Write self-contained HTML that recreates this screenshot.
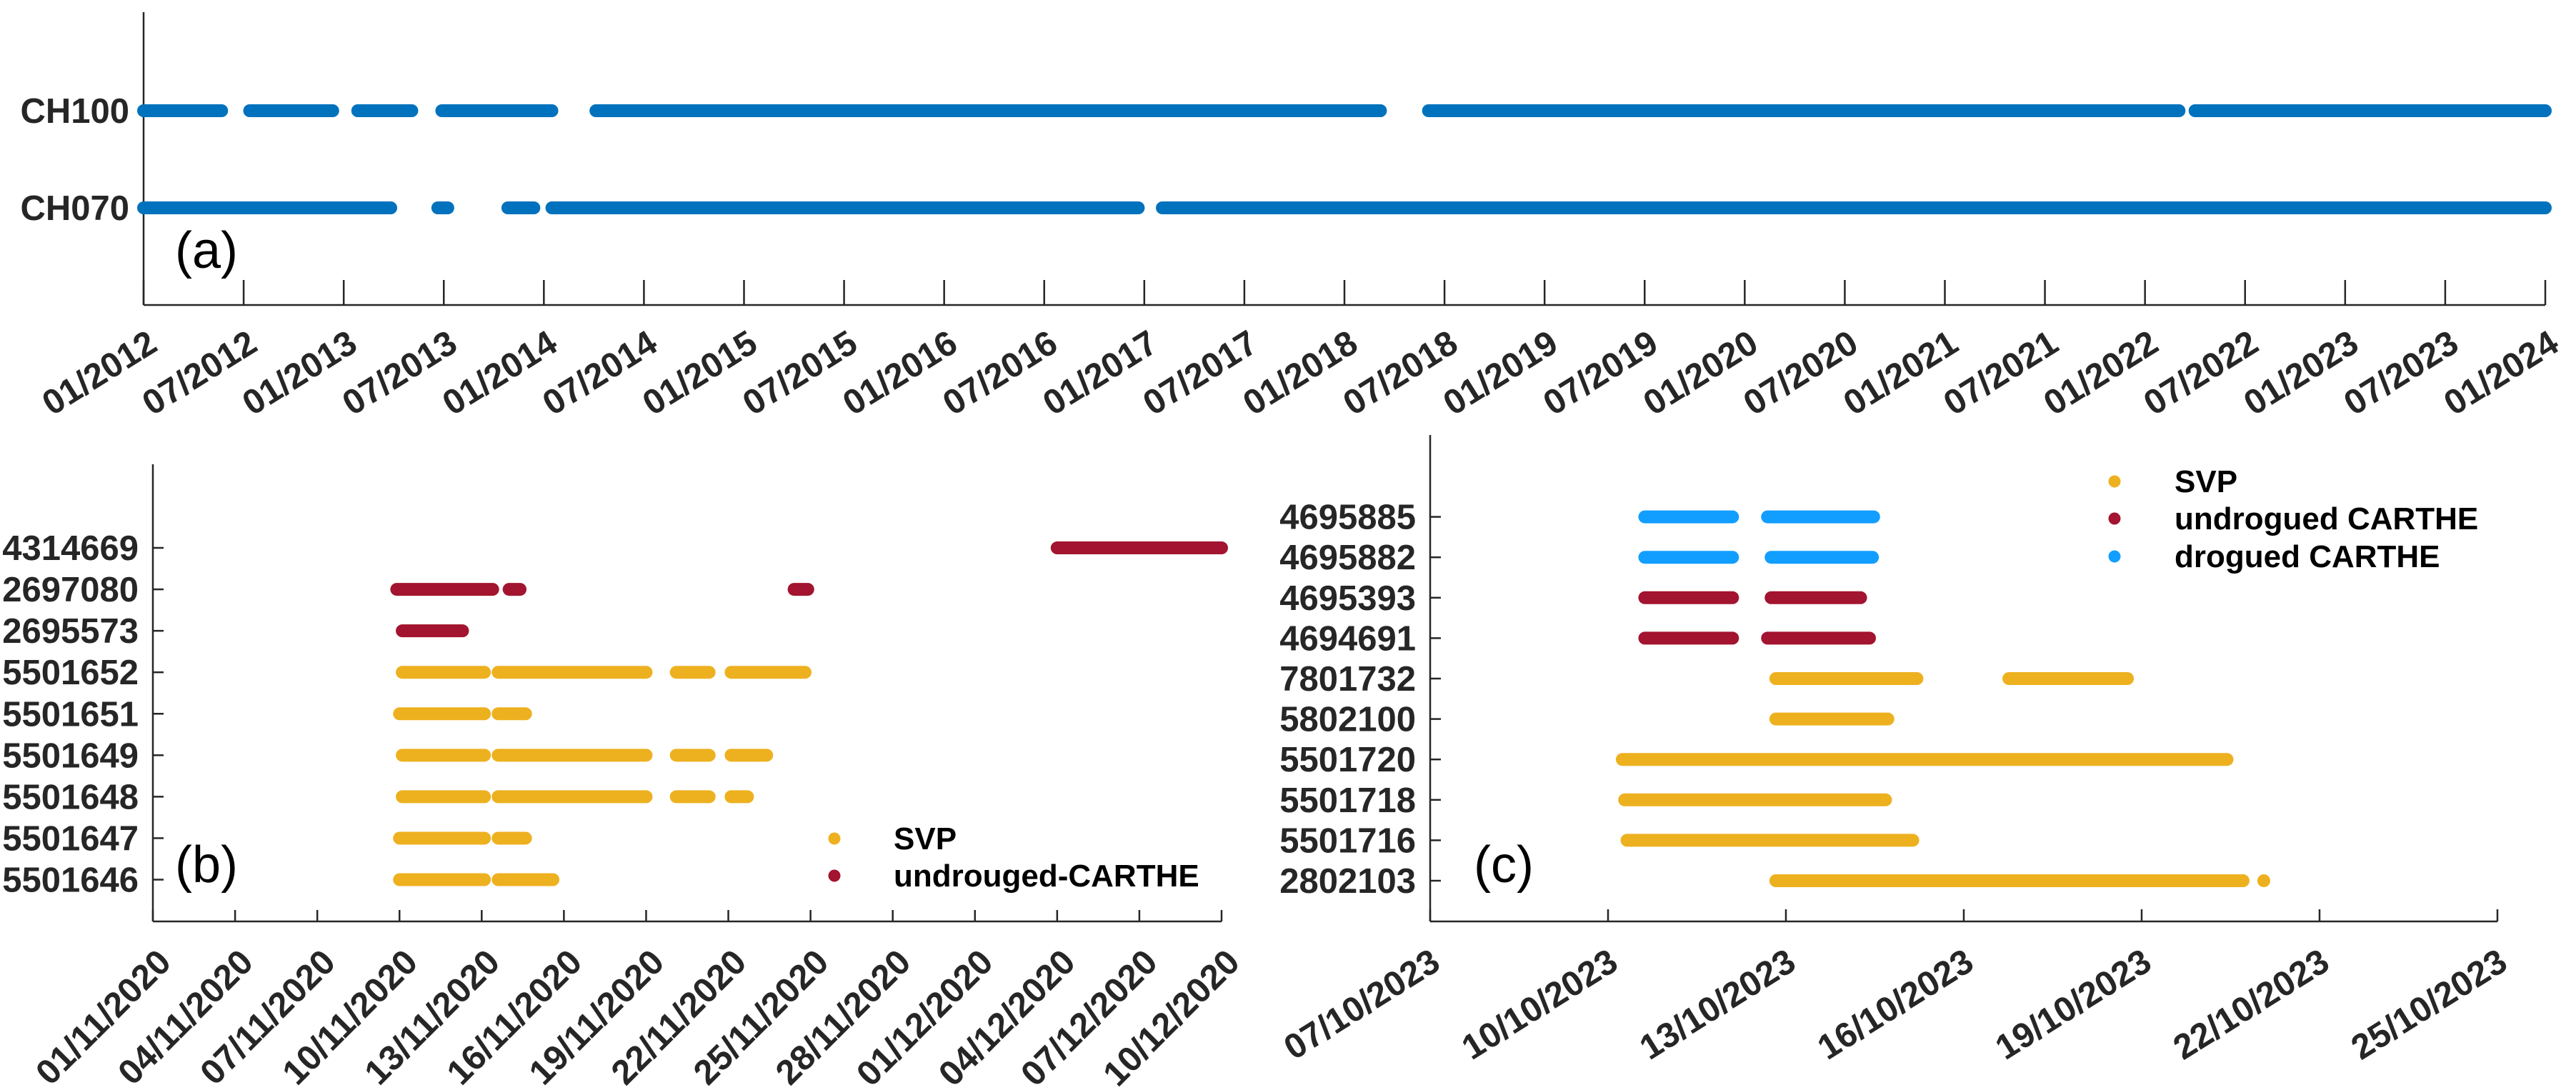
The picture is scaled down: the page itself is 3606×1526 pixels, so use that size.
<!DOCTYPE html>
<html><head><meta charset="utf-8">
<style>
html,body{margin:0;padding:0;background:#fff;}
svg{display:block;font-family:"Liberation Sans",Arial,sans-serif;}
</style></head>
<body>
<svg id="fig" width="3606" height="1526" viewBox="0 0 3606 1526" xmlns="http://www.w3.org/2000/svg"></svg>
<script>
// ---------- Panel (a) data ----------
const aCategories = ['CH070','CH100'];
const aTickLabels = ['01/2012','07/2012','01/2013','07/2013','01/2014','07/2014','01/2015','07/2015','01/2016','07/2016','01/2017','07/2017','01/2018','07/2018','01/2019','07/2019','01/2020','07/2020','01/2021','07/2021','01/2022','07/2022','01/2023','07/2023','01/2024'];
const aTickValues = [0,0.5,1,1.5,2,2.5,3,3.5,4,4.5,5,5.5,6,6.5,7,7.5,8,8.5,9,9.5,10,10.5,11,11.5,12];
const aSegCH070 = [[0,1.235],[1.47,1.52],[1.82,1.95],[2.04,4.97],[5.09,12.0]];
const aSegCH100 = [[0,0.39],[0.53,0.945],[1.07,1.34],[1.49,2.04],[2.26,6.18],[6.42,10.17],[10.25,12.0]];

// ---------- Panel (b) data ----------
const bCategories = ['5501646','5501647','5501648','5501649','5501651','5501652','2695573','2697080','4314669'];
const bTypes = ['SVP','SVP','SVP','SVP','SVP','SVP','U','U','U'];
const bTickLabels = ['01/11/2020','04/11/2020','07/11/2020','10/11/2020','13/11/2020','16/11/2020','19/11/2020','22/11/2020','25/11/2020','28/11/2020','01/12/2020','04/12/2020','07/12/2020','10/12/2020'];
const bTickValues = [0,3,6,9,12,15,18,21,24,27,30,33,36,39];
const bSeg5501646 = [[9.0,12.1],[12.6,14.6]];
const bSeg5501647 = [[9.0,12.1],[12.6,13.6]];
const bSeg5501648 = [[9.1,12.1],[12.6,18.0],[19.1,20.3],[21.1,21.7]];
const bSeg5501649 = [[9.1,12.1],[12.6,18.0],[19.1,20.3],[21.1,22.4]];
const bSeg5501651 = [[9.0,12.1],[12.6,13.6]];
const bSeg5501652 = [[9.1,12.1],[12.6,18.0],[19.1,20.3],[21.1,23.8]];
const bSeg2695573 = [[9.1,11.3]];
const bSeg2697080 = [[8.9,12.4],[13.0,13.4],[23.4,23.9]];
const bSeg4314669 = [[33.0,39.0]];
const bSegments = [bSeg5501646,bSeg5501647,bSeg5501648,bSeg5501649,bSeg5501651,bSeg5501652,bSeg2695573,bSeg2697080,bSeg4314669];

// ---------- Panel (c) data ----------
const cCategories = ['2802103','5501716','5501718','5501720','5802100','7801732','4694691','4695393','4695882','4695885'];
const cTypes = ['SVP','SVP','SVP','SVP','SVP','SVP','U','U','D','D'];
const cTickLabels = ['07/10/2023','10/10/2023','13/10/2023','16/10/2023','19/10/2023','22/10/2023','25/10/2023'];
const cTickValues = [0,3,6,9,12,15,18];
const cSeg2802103 = [[5.83,13.71],[14.06,14.06]];
const cSeg5501716 = [[3.32,8.14]];
const cSeg5501718 = [[3.28,7.68]];
const cSeg5501720 = [[3.24,13.44]];
const cSeg5802100 = [[5.83,7.72]];
const cSeg7801732 = [[5.83,8.21],[9.76,11.76]];
const cSeg4694691 = [[3.62,5.10],[5.69,7.41]];
const cSeg4695393 = [[3.62,5.10],[5.75,7.26]];
const cSeg4695882 = [[3.62,5.10],[5.75,7.46]];
const cSeg4695885 = [[3.62,5.10],[5.69,7.48]];
const cSegments = [cSeg2802103,cSeg5501716,cSeg5501718,cSeg5501720,cSeg5802100,cSeg7801732,cSeg4694691,cSeg4695393,cSeg4695882,cSeg4695885];

const COLORS = {SVP:'#EDB120', U:'#A2142F', D:'#129EFF', A:'#0072BD'};
const AXC = '#262626';
const FS = 49;
const NS = 'http://www.w3.org/2000/svg';
const svg = document.getElementById('fig');

function el(tag, attrs, parent){
  const e = document.createElementNS(NS, tag);
  for (const k in attrs) e.setAttribute(k, attrs[k]);
  (parent||svg).appendChild(e);
  return e;
}
function lin(d0,d1,r0,r1){ return v => r0 + (v-d0)*(r1-r0)/(d1-d0); }

function drawPanel(p){
  const g = el('g', {});
  
  
  const ya = el('line', {x1:p.L, y1:p.T, x2:p.L, y2:p.B, stroke:AXC, 'stroke-width':2.5}, g);
  
  
  const xa = el('line', {x1:p.L, y1:p.B, x2:p.R, y2:p.B, stroke:AXC, 'stroke-width':2.5}, g);
  
  
  p.tickValues.forEach((v,i) => {
    const x = p.x(v);
    const t = el('line', {x1:x, y1:p.B, x2:x, y2:p.B - p.tickLen, stroke:AXC, 'stroke-width':2.5}, g);
    
    
    const lx = x + p.lblDx, ly = p.B + p.lblDy;
    const tx = el('text', {x:0, y:0, transform:`translate(${lx},${ly}) rotate(${-p.rot})`, 'text-anchor':'end', 'font-size':FS, 'font-weight':'bold', fill:AXC}, g);
    tx.textContent = p.tickLabels[i];
    
    
  });
  p.categories.forEach((c,i) => {
    const y = p.y(i);
    if (p.yTick) {
      const t = el('line', {x1:p.L, y1:y, x2:p.L + 15, y2:y, stroke:AXC, 'stroke-width':2.5}, g);
      
      
    }
    const tx = el('text', {x:p.L - 20, y:y + 17, 'text-anchor':'end', 'font-size':FS, 'font-weight':'bold', fill:AXC}, g);
    tx.textContent = c;
    
    
  });
  p.segments.forEach((segs,i) => {
    const y = p.y(i);
    const col = COLORS[p.types[i]];
    segs.forEach(s => {
      const ln = el('line', {x1:p.x(s[0]), y1:y, x2:p.x(s[1]), y2:y, stroke:col, 'stroke-width':18, 'stroke-linecap':'round'}, g);
      
      
    });
  });
  const pl = el('text', {x:p.labX, y:p.labY, 'font-size':72, fill:'#000'}, g);
  pl.textContent = p.label;
  
  
  return g;
}

drawPanel({
  name:'panel-a', L:201, R:3563, T:17, B:427,
  x: lin(0,12,201,3563), y: i => 291 - i*136,
  tickValues:aTickValues, tickLabels:aTickLabels, tickLen:35,
  lblDx:22, lblDy:62, rot:32, yTick:false,
  categories:aCategories, types:['A','A'], segments:[aSegCH070,aSegCH100],
  label:'(a)', labX:245, labY:375
});
const gb = drawPanel({
  name:'panel-b', L:214, R:1710, T:650, B:1290,
  x: lin(0,39,214,1710), y: i => 1231.5 - i*58.06,
  tickValues:bTickValues, tickLabels:bTickLabels, tickLen:16,
  lblDx:28, lblDy:60, rot:45, yTick:true,
  categories:bCategories, types:bTypes, segments:bSegments,
  label:'(b)', labX:245, labY:1235
});
const gc = drawPanel({
  name:'panel-c', L:2002, R:3496, T:609, B:1290,
  x: lin(0,18,2002,3496), y: i => 1233 - i*56.6,
  tickValues:cTickValues, tickLabels:cTickLabels, tickLen:17,
  lblDx:17, lblDy:65, rot:32, yTick:true,
  categories:cCategories, types:cTypes, segments:cSegments,
  label:'(c)', labX:2063, labY:1235
});

function legend(parent, name, mx, tx, items){
  const lg = el('g', {}, parent);
  
  
  items.forEach(it => {
    const c = el('circle', {cx:mx, cy:it[2], r:8.5, fill:COLORS[it[1]]}, lg);
    
    
    const t = el('text', {x:tx, y:it[2] + 15, 'font-size':44, 'font-weight':'bold', fill:'#000'}, lg);
    t.textContent = it[0];
    
    
  });
}
legend(gb, 'legend-b', 1168, 1251, [['SVP','SVP',1174],['undrouged-CARTHE','U',1226]]);
legend(gc, 'legend-c', 2960, 3044, [['SVP','SVP',674],['undrogued CARTHE','U',726],['drogued CARTHE','D',779]]);
</script>
</body></html>
